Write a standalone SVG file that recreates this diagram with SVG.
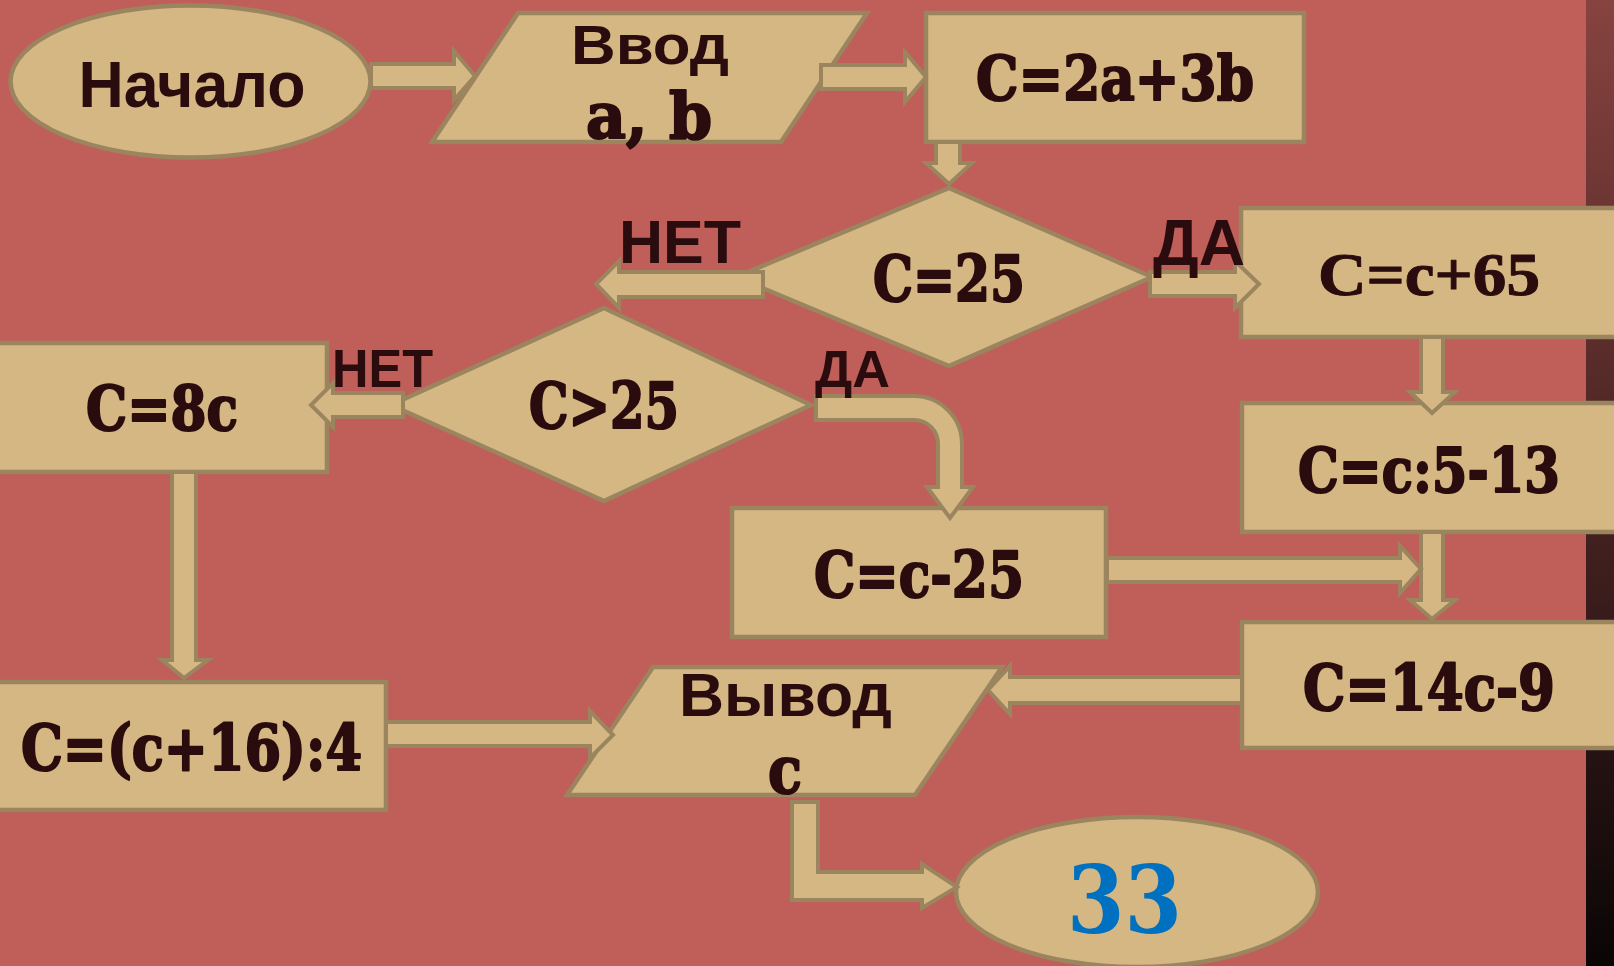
<svg xmlns="http://www.w3.org/2000/svg" width="1614" height="966" viewBox="0 0 1614 966">
  <defs>
    <linearGradient id="strip" x1="0" y1="0" x2="0" y2="1">
      <stop offset="0" stop-color="#874340"/>
      <stop offset="1" stop-color="#0A0505"/>
    </linearGradient>
    <style>
      .shape { fill: #D4B783; stroke: #9B855F; stroke-width: 4.5; stroke-linejoin: miter; }
      .arrow { fill: #D4B783; stroke: #9B855F; stroke-width: 4; stroke-linejoin: miter; }
      .sans { font-family: "Liberation Sans", Arial, sans-serif; font-weight: bold; fill: #2A0C0E; text-anchor: middle; }
      .serif { font-family: "DejaVu Serif", "Liberation Serif", serif; font-weight: bold; fill: #2A0C0E; stroke: #2A0C0E; stroke-width: 2.2; stroke-linejoin: round; text-anchor: middle; }
      .serif2 { font-family: "Liberation Serif", "DejaVu Serif", serif; font-weight: bold; fill: #2A0C0E; stroke: #2A0C0E; stroke-width: 1; stroke-linejoin: round; text-anchor: middle; }
      .blue { font-family: "DejaVu Serif", "Liberation Serif", serif; font-weight: bold; fill: #0070C0; text-anchor: middle; }
    </style>
  </defs>

  <rect x="0" y="0" width="1614" height="966" fill="#C05E59"/>
  <rect x="1586" y="0" width="28" height="966" fill="url(#strip)"/>

  <g id="start">
    <ellipse class="shape" cx="190.5" cy="81.5" rx="180" ry="76"/>
    <text class="sans" x="192" y="107" font-size="65" textLength="227" lengthAdjust="spacingAndGlyphs">Начало</text>
  </g>

  <g id="input">
    <polygon class="shape" points="518,13 867,13 781,142 432,142"/>
    <text class="sans" x="650" y="64" font-size="56" textLength="158" lengthAdjust="spacingAndGlyphs">Ввод</text>
    <text class="serif" x="649" y="138" font-size="64" textLength="126" lengthAdjust="spacingAndGlyphs">a, b</text>
  </g>

  <g id="calc1">
    <rect class="shape" x="926" y="13" width="378" height="129"/>
    <text class="serif" x="1115" y="100" font-size="62" textLength="278" lengthAdjust="spacingAndGlyphs">C=2a+3b</text>
  </g>

  <g id="cond1">
    <polygon class="shape" points="949,188 1152,277 949,366 736,277"/>
    <text class="serif" x="949" y="301" font-size="63" textLength="152" lengthAdjust="spacingAndGlyphs">C=25</text>
  </g>

  <g id="calc_yes1">
    <rect class="shape" x="1241" y="208" width="400" height="129"/>
    <text class="serif2" x="1429" y="295" font-size="62" textLength="222" lengthAdjust="spacingAndGlyphs">C=c+65</text>
  </g>

  <g id="calc_div">
    <rect class="shape" x="1242" y="403" width="400" height="129"/>
    <text class="serif" x="1429" y="492" font-size="62" textLength="262" lengthAdjust="spacingAndGlyphs">C=c:5-13</text>
  </g>

  <g id="calc_mul">
    <rect class="shape" x="1242" y="622" width="400" height="126"/>
    <text class="serif" x="1429" y="710" font-size="64" textLength="252" lengthAdjust="spacingAndGlyphs">C=14c-9</text>
  </g>

  <g id="cond2">
    <polygon class="shape" points="604,308 811,405 604,501 391,405"/>
    <text class="serif" x="604" y="428" font-size="63" textLength="150" lengthAdjust="spacingAndGlyphs">C&gt;25</text>
  </g>

  <g id="calc_sub">
    <rect class="shape" x="732" y="508" width="374" height="129"/>
    <text class="serif" x="919" y="597" font-size="64" textLength="210" lengthAdjust="spacingAndGlyphs">C=c-25</text>
  </g>

  <g id="calc_8c">
    <rect class="shape" x="-20" y="343" width="347" height="129"/>
    <text class="serif" x="162" y="430" font-size="62" textLength="152" lengthAdjust="spacingAndGlyphs">C=8c</text>
  </g>

  <g id="calc_16">
    <rect class="shape" x="-20" y="682" width="406" height="128"/>
    <text class="serif" x="191.5" y="770" font-size="64" textLength="341" lengthAdjust="spacingAndGlyphs">C=(c+16):4</text>
  </g>

  <g id="output">
    <polygon class="shape" points="653,667 1002,667 915,795 567,795"/>
    <text class="sans" x="785.5" y="716" font-size="61" textLength="213" lengthAdjust="spacingAndGlyphs">Вывод</text>
  </g>

  <g id="end">
    <ellipse class="shape" cx="1137" cy="892" rx="181" ry="75"/>
    <text class="blue" x="1124.5" y="933" font-size="93" textLength="115" lengthAdjust="spacingAndGlyphs">33</text>
  </g>

  <g id="connectors">
    <polygon class="arrow" points="371,64 454,64 454,51 475,76 454,100 454,88 371,88"/>
    <polygon class="arrow" points="821,65 905,65 905,52 926,77 905,102 905,89 821,89"/>
    <polygon class="arrow" points="936,142 960,142 960,163 972,163 949,184 926,163 936,163"/>
    <polygon class="arrow" points="763,272 619,272 619,261 596,284 619,308 619,297 763,297"/>
    <polygon class="arrow" points="1150,272 1235,272 1235,261 1259,284 1235,308 1235,296 1150,296"/>
    <polygon class="arrow" points="1421,337 1443,337 1443,392 1455,392 1432,413 1410,392 1421,392"/>
    <polygon class="arrow" points="1421,532 1443,532 1443,600 1455,600 1432,619 1410,600 1421,600"/>
    <polygon class="arrow" points="1107,558 1400,558 1400,546 1421,569 1400,593 1400,582 1107,582"/>
    <polygon class="arrow" points="1242,677 1010,677 1010,666 988,690 1010,714 1010,703 1242,703"/>
    <polygon class="arrow" points="403,393 333,393 333,383 311,405 333,427 333,417 403,417"/>
    <path class="arrow" d="M 816,396 H 914 A 48 48 0 0 1 962 444 V 487 H 973 L 950 518 L 927 487 H 938 V 444 A 24 24 0 0 0 914 420 H 816 Z"/>
    <polygon class="arrow" points="172,472 196,472 196,660 208,660 184,678 162,660 172,660"/>
    <polygon class="arrow" points="386,722 590,722 590,711 613,735 590,758 590,746 386,746"/>
    <path class="arrow" d="M 792,802 H 818 V 872 H 922 V 864 L 957 887 L 922 908 V 900 H 792 Z"/>
  </g>

  <g id="labels">
    <text class="serif" x="785" y="793" font-size="66" textLength="34" lengthAdjust="spacingAndGlyphs">c</text>
    <text class="sans" x="680" y="263" font-size="61" textLength="122" lengthAdjust="spacingAndGlyphs">НЕТ</text>
    <text class="sans" x="1199" y="265" font-size="65" textLength="92" lengthAdjust="spacingAndGlyphs">ДА</text>
    <text class="sans" x="852.5" y="387" font-size="52" textLength="75" lengthAdjust="spacingAndGlyphs">ДА</text>
    <text class="sans" x="382.5" y="387" font-size="53" textLength="101" lengthAdjust="spacingAndGlyphs">НЕТ</text>
  </g>
</svg>
